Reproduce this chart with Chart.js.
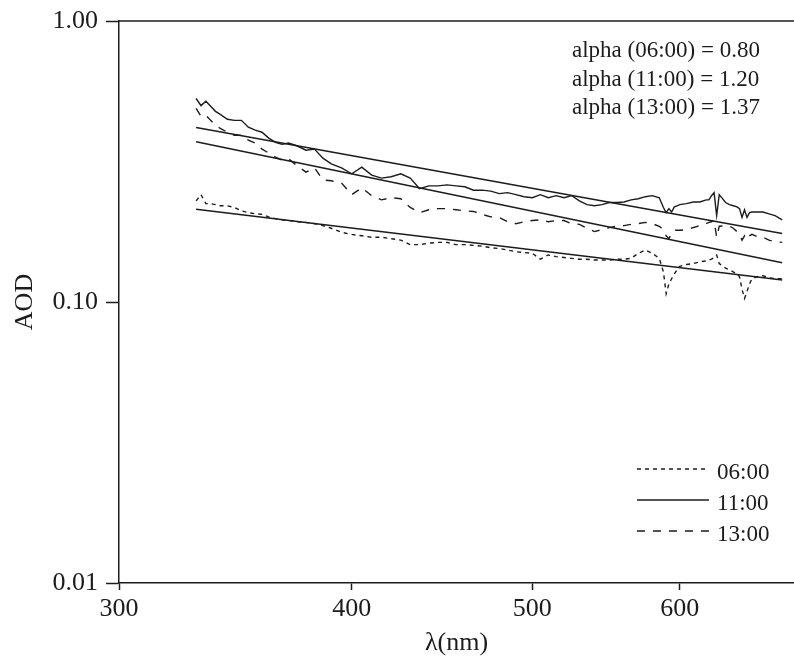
<!DOCTYPE html>
<html>
<head>
<meta charset="utf-8">
<title>AOD spectra</title>
<script src="https://cdn.jsdelivr.net/npm/chart.js@4.4.0/dist/chart.umd.min.js"></script>
<style>
  html, body { margin: 0; padding: 0; background: #fff; }
  #wrap { width: 794px; height: 669px; }
</style>
</head>
<body>
<div id="wrap"><canvas id="aodChart" width="794" height="669"></canvas></div>
<script>
// wavelength grid (nm) shared by the three measured spectra
const wavelengths = [
  330, 332, 334, 336, 338, 340, 343, 346, 349, 352,
  355, 358, 361, 364, 367, 370, 374, 378, 382, 386,
  390, 395, 400, 405, 410, 415, 420, 425, 430, 435,
  440, 445, 450, 455, 460, 465, 470, 475, 480, 485,
  490, 495, 500, 505, 510, 515, 520, 525, 530, 535,
  540, 545, 550, 555, 560, 565, 570, 575, 580, 585,
  588, 590, 592, 594, 596, 598, 600, 605, 610, 615,
  620, 622, 624, 626, 628, 630, 635, 638, 641, 644,
  646, 648, 650, 652, 654, 656, 660, 665, 670, 675,
  681
];

const aod0600 = [
  0.229, 0.241, 0.224, 0.224, 0.222, 0.220, 0.220, 0.217, 0.211, 0.208,
  0.206, 0.205, 0.201, 0.198, 0.196, 0.195, 0.193, 0.192, 0.190, 0.187,
  0.183, 0.177, 0.174, 0.172, 0.170, 0.170, 0.168, 0.166, 0.160, 0.160,
  0.162, 0.163, 0.163, 0.160, 0.160, 0.159, 0.158, 0.156, 0.155, 0.153,
  0.151, 0.150, 0.149, 0.142, 0.147, 0.145, 0.144, 0.143, 0.142, 0.142,
  0.141, 0.141, 0.141, 0.142, 0.142, 0.143, 0.149, 0.153, 0.149, 0.143,
  0.128, 0.107, 0.116, 0.121, 0.126, 0.130, 0.134, 0.136, 0.137, 0.139,
  0.140, 0.141, 0.142, 0.144, 0.147, 0.137, 0.132, 0.130, 0.128, 0.126,
  0.123, 0.111, 0.103, 0.109, 0.116, 0.121, 0.123, 0.124, 0.122, 0.121,
  0.121
];

const aod1100 = [
  0.530, 0.500, 0.518, 0.497, 0.477, 0.465, 0.447, 0.443, 0.443, 0.419,
  0.409, 0.402, 0.383, 0.370, 0.364, 0.368, 0.359, 0.347, 0.350, 0.325,
  0.310, 0.300, 0.286, 0.302, 0.283, 0.276, 0.279, 0.286, 0.276, 0.253,
  0.259, 0.259, 0.261, 0.259, 0.257, 0.250, 0.250, 0.248, 0.243, 0.245,
  0.241, 0.237, 0.235, 0.241, 0.235, 0.239, 0.235, 0.239, 0.229, 0.222,
  0.220, 0.222, 0.226, 0.226, 0.227, 0.231, 0.233, 0.237, 0.239, 0.235,
  0.217, 0.208, 0.215, 0.209, 0.218, 0.220, 0.222, 0.224, 0.227, 0.227,
  0.231, 0.231, 0.239, 0.245, 0.203, 0.241, 0.226, 0.222, 0.220, 0.218,
  0.215, 0.200, 0.213, 0.200, 0.208, 0.209, 0.209, 0.209, 0.206, 0.203,
  0.196
];

const aod1300 = [
  0.489, 0.458, 0.462, 0.443, 0.426, 0.415, 0.402, 0.392, 0.392, 0.377,
  0.368, 0.350, 0.339, 0.328, 0.320, 0.323, 0.305, 0.290, 0.300, 0.272,
  0.270, 0.265, 0.241, 0.255, 0.239, 0.231, 0.235, 0.233, 0.217, 0.208,
  0.213, 0.215, 0.215, 0.213, 0.211, 0.210, 0.205, 0.201, 0.200, 0.193,
  0.190, 0.193, 0.195, 0.196, 0.193, 0.195, 0.195, 0.190, 0.189, 0.183,
  0.178, 0.181, 0.184, 0.186, 0.187, 0.189, 0.190, 0.192, 0.190, 0.186,
  0.181, 0.172, 0.168, 0.175, 0.180, 0.180, 0.180, 0.181, 0.184, 0.187,
  0.190, 0.192, 0.193, 0.195, 0.170, 0.186, 0.187, 0.186, 0.183, 0.178,
  0.174, 0.166, 0.172, 0.167, 0.172, 0.174, 0.171, 0.170, 0.166, 0.164,
  0.163
];

const times = ['06:00', '11:00', '13:00'];
const alphas = [0.80, 1.20, 1.37];
const fitStart = [0.214, 0.418, 0.372]; // fitted AOD at the first wavelength
const xTicks = [300, 400, 500, 600];
const yTicks = [0.01, 0.1, 1];

const INK = '#1c1c1c';
const SERIF = '"Liberation Serif", "Times New Roman", serif';
const dashes = [[4, 4], [], [8, 8]];

function toPoints(values) {
  return wavelengths.map((w, i) => ({ x: w, y: values[i] }));
}

// Angstrom power law through the first wavelength: AOD ~ lambda^-alpha
function fitLine(k) {
  const w0 = wavelengths[0];
  const w1 = wavelengths[wavelengths.length - 1];
  return [
    { x: w0, y: fitStart[k] },
    { x: w1, y: fitStart[k] * Math.pow(w1 / w0, -alphas[k]) }
  ];
}

const series = [aod0600, aod1100, aod1300];

const datasets = [];
series.forEach((values, k) => {
  datasets.push({
    label: times[k],
    data: toPoints(values),
    borderColor: INK,
    borderWidth: 1.4,
    borderDash: dashes[k],
    pointRadius: 0,
    fill: false,
    tension: 0
  });
});
alphas.forEach((a, k) => {
  datasets.push({
    label: 'fit ' + times[k],
    data: fitLine(k),
    borderColor: INK,
    borderWidth: 1.5,
    pointRadius: 0,
    fill: false,
    tension: 0
  });
});

// frame top, alpha notes and the line-style key
const notes = {
  id: 'notes',
  afterDraw(chart) {
    const { ctx, chartArea } = chart;
    ctx.save();
    ctx.strokeStyle = INK;
    ctx.lineWidth = 1.5;
    ctx.beginPath();
    ctx.moveTo(chartArea.left, chartArea.top);
    ctx.lineTo(chartArea.right, chartArea.top);
    ctx.stroke();

    ctx.fillStyle = INK;
    ctx.font = '23px ' + SERIF;
    ctx.textAlign = 'left';
    ctx.textBaseline = 'alphabetic';
    times.forEach((t, k) => {
      ctx.fillText(`alpha (${t}) = ${alphas[k].toFixed(2)}`, 572, 57 + k * 28.5);
    });

    ctx.textBaseline = 'middle';
    times.forEach((t, k) => {
      const y = 469 + k * 31;
      ctx.setLineDash(dashes[k]);
      ctx.lineWidth = 1.5;
      ctx.beginPath();
      ctx.moveTo(637, y);
      ctx.lineTo(709, y);
      ctx.stroke();
      ctx.setLineDash([]);
      ctx.fillText(t, 717, y + 3.5);
    });
    ctx.restore();
  }
};

new Chart(document.getElementById('aodChart'), {
  type: 'line',
  data: { datasets },
  options: {
    responsive: false,
    animation: false,
    devicePixelRatio: 1,
    layout: { padding: { top: 17, left: 0, right: 0, bottom: 0 } },
    plugins: {
      legend: { display: false },
      tooltip: { enabled: false }
    },
    scales: {
      x: {
        type: 'logarithmic',
        min: 300,
        max: 691,
        afterBuildTicks: s => { s.ticks = xTicks.map(v => ({ value: v })); },
        afterFit: s => { s.height = 86; },
        border: { display: true, color: INK, width: 1.5 },
        grid: { drawOnChartArea: false, drawTicks: true, tickLength: 7, tickColor: INK, tickWidth: 1.5 },
        ticks: {
          color: INK,
          padding: 6,
          maxRotation: 0,
          autoSkip: false,
          font: { family: SERIF, size: 26, lineHeight: 1 },
          callback: v => String(v)
        },
        title: {
          display: true,
          text: 'λ(nm)',
          color: INK,
          font: { family: SERIF, size: 26, lineHeight: 1 },
          padding: { top: 0, bottom: 13 }
        }
      },
      y: {
        type: 'logarithmic',
        min: 0.01,
        max: 1,
        afterBuildTicks: s => { s.ticks = yTicks.map(v => ({ value: v })); },
        afterFit: s => { s.width = 119; },
        border: { display: true, color: INK, width: 1.5 },
        grid: { drawOnChartArea: false, drawTicks: true, tickLength: 13, tickColor: INK, tickWidth: 1.5 },
        ticks: {
          color: INK,
          padding: 8,
          font: { family: SERIF, size: 26, lineHeight: 1 },
          callback: v => Number(v).toFixed(2)
        },
        title: {
          display: true,
          text: 'AOD',
          color: INK,
          font: { family: SERIF, size: 26, lineHeight: 1 },
          padding: { top: 12, bottom: 0 }
        }
      }
    }
  },
  plugins: [notes]
});
</script>
</body>
</html>
